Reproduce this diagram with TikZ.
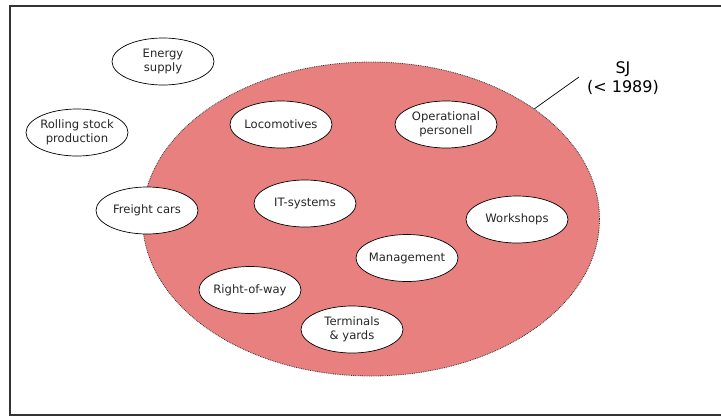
\documentclass[tikz,border=0pt]{standalone}
\usepackage{fontspec}
\setmainfont{DejaVu Sans}
\usetikzlibrary{shapes.geometric}
\definecolor{sjred}{RGB}{232,128,128}
\tikzset{
  part/.style={ellipse, draw=black, line width=0.7pt, fill=white, minimum width=102pt, minimum height=47pt, inner xsep=-12pt, inner ysep=0pt, align=center, font=\fontsize{11.6}{14}\selectfont, text=black!85},
}
\begin{document}
\begin{tikzpicture}[x=1pt,y=-1pt]
\useasboundingbox (0,0) rectangle (721,416);
\draw[line width=1.3pt, black!80] (721,6) -- (10,6) -- (10,415) -- (721,415);
\node[ellipse, fill=sjred, draw=black!80, densely dotted, line width=0.8pt, minimum width=457pt, minimum height=314pt, inner sep=0pt] (sj) at (371,219) {};
\node[part] (energy) at (163,61.5) {Energy\\supply};
\node[part] (rolling) at (77,132.5) {Rolling stock\\production};
\node[part] (loco) at (281,124.5) {Locomotives};
\node[part] (oper) at (446,124.5) {Operational\\personell};
\node[part] (freight) at (147,210.5) {Freight cars};
\node[part] (it) at (305,203.5) {IT-systems};
\node[part] (work) at (517,219.5) {Workshops};
\node[part] (mgmt) at (407,258) {Management};
\node[part] (row) at (250,290) {Right-of-way};
\node[part] (term) at (352,329.5) {Terminals\\\& yards};
\node[align=center, font=\fontsize{16}{19}\selectfont] (sjlabel) at (623,78) {SJ\\(< 1989)};
\coordinate (tip) at (579,77);
\draw[line width=0.7pt] (sj.34.7) -- (tip);
\end{tikzpicture}
\end{document}
